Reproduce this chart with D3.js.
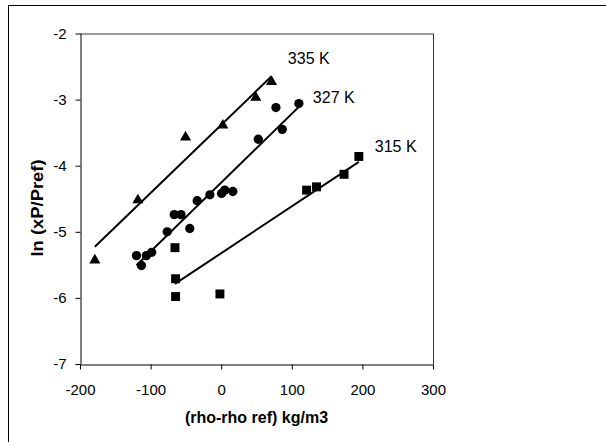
<!DOCTYPE html>
<html>
<head>
<meta charset="utf-8">
<script src="https://cdn.jsdelivr.net/npm/d3@7"></script>
<style>
    body { margin: 0; background: #fff; }
    svg text { font-family: "Liberation Sans", Arial, sans-serif; fill: #000; }
</style>
</head>
<body>
<svg id="chart" width="606" height="442"></svg>
<script>
'use strict';

// tick labels
var xTicks = [-200, -100, 0, 100, 200, 300],
    yTicks = [-7, -6, -5, -4, -3, -2];

// 315 K (squares)
var x315 = [-65.5, -64.6, -64.6, -1.8, 121, 135, 174, 195],
    y315 = [-5.24, -5.71, -5.98, -5.94, -4.37, -4.32, -4.13, -3.86];

// 327 K (circles)
var x327 = [-120, -113, -106, -98.5, -76.5, -66.5, -57, -44.5, -34, -16, 0.5, 5, 16.5, 52.5, 77.5, 86.5, 110],
    y327 = [-5.36, -5.51, -5.36, -5.31, -5.00, -4.74, -4.74, -4.95, -4.53, -4.44, -4.42, -4.37, -4.39, -3.60, -3.12, -3.45, -3.06];

// 335 K (triangles)
var x335 = [-179, -118, -50.5, 2.3, 49, 71.3],
    y335 = [-5.43, -4.52, -3.57, -3.39, -2.97, -2.73];

// label anchors, in data units
var seriesNames = ["315 K", "327 K", "335 K"],
    labelX      = [217.5, 129.8, 94.4],
    labelY      = [-3.79, -3.05, -2.46];

var svg = d3.select("#chart");

var x = d3.scaleLinear().domain([-200, 300]).range([80, 433]),
    y = d3.scaleLinear().domain([-7, -2]).range([364, 33.5]);

// plain hyphen minus, no decimals
var fmt = function(d){ return String(d); };

// outer frame (runs off the right and bottom edges)
svg.append("rect")
    .attr("x", 8.5).attr("y", 5.5)
    .attr("width", 620).attr("height", 460)
    .attr("fill", "none").attr("stroke", "#000").attr("stroke-width", 1);

// plot area border, top and right
svg.append("path")
    .attr("d", "M" + x(-200) + "," + (y(-2) + 0.5) + "H" + (x(300) + 0.5) + "V" + y(-7))
    .attr("fill", "none").attr("stroke", "#333").attr("stroke-width", 1);

function styleAxis(g) {
    g.select(".domain").attr("stroke", "#000");
    g.selectAll(".tick line").attr("stroke", "#000");
    g.selectAll(".tick text")
        .style("font-family", "'Liberation Sans', Arial, sans-serif")
        .style("font-size", "15px")
        .attr("fill", "#000");
}

svg.append("g")
    .attr("transform", "translate(0," + (y(-7) + 0.5) + ")")
    .call(d3.axisBottom(x).tickValues(xTicks).tickFormat(fmt)
        .tickSizeInner(5).tickSizeOuter(0).tickPadding(15))
    .call(styleAxis);

svg.append("g")
    .attr("transform", "translate(" + (x(-200) + 0.5) + ",0)")
    .call(d3.axisLeft(y).tickValues(yTicks).tickFormat(fmt)
        .tickSizeInner(5).tickSizeOuter(0).tickPadding(9))
    .call(styleAxis);

// axis titles
svg.append("text")
    .attr("x", (x(-200) + x(300)) / 2).attr("y", 423)
    .attr("text-anchor", "middle")
    .style("font-size", "16px").style("font-weight", "bold")
    .text("(rho-rho ref) kg/m3");

svg.append("text")
    .attr("transform", "translate(43,208) rotate(-90) scale(1.15,1)")
    .attr("text-anchor", "middle")
    .style("font-size", "16px").style("font-weight", "bold")
    .text("ln (xP/Pref)");

// least squares line over the x range of a series
function trend(xs, ys) {
    var mx = d3.mean(xs), my = d3.mean(ys), sxy = 0, sxx = 0;
    xs.forEach(function(v, i) {
        sxy += (v - mx) * (ys[i] - my);
        sxx += (v - mx) * (v - mx);
    });
    var b = sxy / sxx, a = my - b * mx,
        ext = d3.extent(xs);
    return [[ext[0], a + b * ext[0]], [ext[1], a + b * ext[1]]];
}

var series = [
    {xs: x315, ys: y315, symbol: d3.symbolSquare,   size: 80},
    {xs: x327, ys: y327, symbol: d3.symbolCircle,   size: 68},
    {xs: x335, ys: y335, symbol: d3.symbolTriangle, size: 54}
];

var line = d3.line().x(function(d){ return x(d[0]); }).y(function(d){ return y(d[1]); });

series.forEach(function(s, k) {
    var pts = s.xs.map(function(v, i){ return [v, s.ys[i]]; });

    svg.append("g").selectAll("path")
        .data(pts)
        .enter().append("path")
            .attr("transform", function(d){ return "translate(" + x(d[0]) + "," + y(d[1]) + ")"; })
            .attr("d", d3.symbol().type(s.symbol).size(s.size))
            .attr("fill", "#000");

    svg.append("path")
        .datum(trend(s.xs, s.ys))
        .attr("d", line)
        .attr("fill", "none").attr("stroke", "#000").attr("stroke-width", 2);

    svg.append("text")
        .attr("x", x(labelX[k])).attr("y", y(labelY[k]))
        .style("font-size", "16px")
        .text(seriesNames[k]);
});
</script>
</body>
</html>
